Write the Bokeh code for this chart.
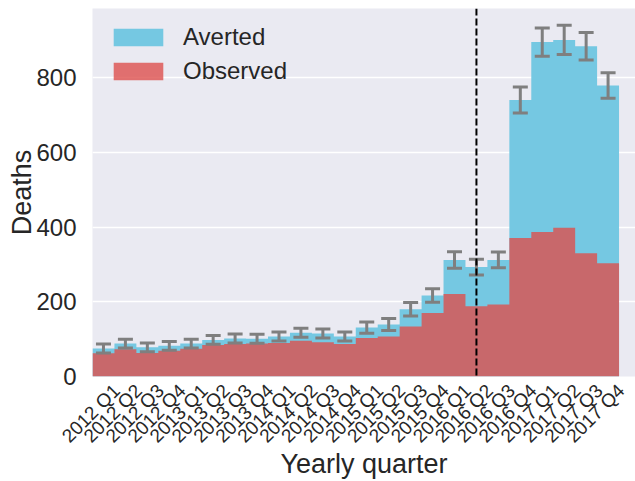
import numpy as np
from bokeh.plotting import figure
from bokeh.models import (Range1d, FixedTicker, Whisker, TeeHead, Span,
                          ColumnDataSource, Legend, LegendItem)
from bokeh.embed import file_html
from bokeh.resources import INLINE

# Quarterly deaths: observed and observed + averted (total), with uncertainty on the total
quarters = ["2012 Q1", "2012 Q2", "2012 Q3", "2012 Q4",
            "2013 Q1", "2013 Q2", "2013 Q3", "2013 Q4",
            "2014 Q1", "2014 Q2", "2014 Q3", "2014 Q4",
            "2015 Q1", "2015 Q2", "2015 Q3", "2015 Q4",
            "2016 Q1", "2016 Q2", "2016 Q3", "2016 Q4",
            "2017 Q1", "2017 Q2", "2017 Q3", "2017 Q4"]
total = [75, 88, 78, 82, 88, 98, 102, 101, 107, 117, 115, 107,
         131, 139, 180, 217, 312, 293, 312, 740, 895, 901, 884, 779]
observed = [62, 73, 63, 69, 74, 84, 87, 88, 90, 96, 92, 87,
            103, 107, 134, 170, 221, 188, 193, 371, 387, 398, 330, 303]
error = [12, 12, 12, 12, 12, 12, 12, 12, 12, 12, 12, 12,
         15, 16, 18, 18, 22, 21, 21, 35, 38, 39, 37, 34]
intervention_quarter = "2016 Q2"

BG = "#EAEAF2"
BLUE = "#75C8E2"
RED = "#DD504E"
TEXT = "#262626"
FONT = "Liberation Sans"
ERR = "#7f7f7f"

n = len(quarters)
edges = np.arange(n + 1)
centers = np.arange(n) + 0.5
# rotated labels are anchored at their right end; push the anchor so each label sits centred on its quarter's left edge
label_shift = 1.1
tick_pos = [i + label_shift for i in range(n)]

p = figure(width=635, height=481, output_backend="svg", toolbar_location=None,
           x_range=Range1d(0, 24.75), y_range=Range1d(0, 985),
           min_border_left=92, min_border_top=8, min_border_right=0,
           min_border_bottom=105)
p.background_fill_color = BG
p.border_fill_color = "white"
p.outline_line_color = None

r_tot = p.varea_step(x=edges, y1=np.zeros(n + 1), y2=total + [total[-1]],
                     step_mode="after", fill_color=BLUE, fill_alpha=1.0)
r_obs = p.varea_step(x=edges, y1=np.zeros(n + 1), y2=observed + [observed[-1]],
                     step_mode="after", fill_color=RED, fill_alpha=0.8)

err_src = ColumnDataSource(dict(
    x=centers,
    lower=np.array(total) - np.array(error),
    upper=np.array(total) + np.array(error),
))
whisk = Whisker(base="x", lower="lower", upper="upper", source=err_src,
                level="annotation", line_color=ERR, line_width=3,
                upper_head=TeeHead(size=15, line_color=ERR, line_width=3),
                lower_head=TeeHead(size=15, line_color=ERR, line_width=3))
p.add_layout(whisk)

p.add_layout(Span(location=quarters.index(intervention_quarter) + 0.5,
                  dimension="height", line_color="black", line_width=2,
                  line_dash="7 3", level="annotation"))

legend = Legend(items=[LegendItem(label="Averted", renderers=[r_tot]),
                       LegendItem(label="Observed", renderers=[r_obs])],
                location="top_left")
legend.border_line_color = None
legend.background_fill_alpha = 0
legend.label_text_font = FONT
legend.label_text_font_size = "24px"
legend.label_text_color = TEXT
legend.glyph_width = 62
legend.glyph_height = 22
legend.label_standoff = 14
legend.padding = 21
legend.margin = 15
legend.spacing = 6
p.add_layout(legend)

# grid: horizontal white lines only
p.xgrid.grid_line_color = None
p.ygrid.grid_line_color = "white"
p.ygrid.grid_line_width = 1.3
p.ygrid.ticker = FixedTicker(ticks=[0, 200, 400, 600, 800])

for ax in (p.xaxis[0], p.yaxis[0]):
    ax.axis_line_color = None
    ax.major_tick_line_color = None
    ax.minor_tick_line_color = None
    ax.major_label_text_font = FONT
    ax.major_label_text_color = TEXT
    ax.axis_label_text_font = FONT
    ax.axis_label_text_color = TEXT
    ax.axis_label_text_font_style = "normal"
    ax.axis_label_text_font_size = "27px"

p.yaxis.ticker = FixedTicker(ticks=[0, 200, 400, 600, 800])
p.yaxis.major_label_text_font_size = "24px"
p.yaxis.major_label_standoff = 10
p.yaxis.axis_label_standoff = -4
p.yaxis.axis_label = "Deaths"

p.xaxis.ticker = FixedTicker(ticks=tick_pos)
p.xaxis.major_label_overrides = {t: q for t, q in zip(tick_pos, quarters)}
p.xaxis.major_label_orientation = np.pi / 4
p.xaxis.major_label_text_font_size = "19px"
p.xaxis.major_label_standoff = 5
p.xaxis.axis_label_standoff = -8
p.xaxis.axis_label = "Yearly quarter"

open("out.html", "w").write(file_html(p, INLINE))
